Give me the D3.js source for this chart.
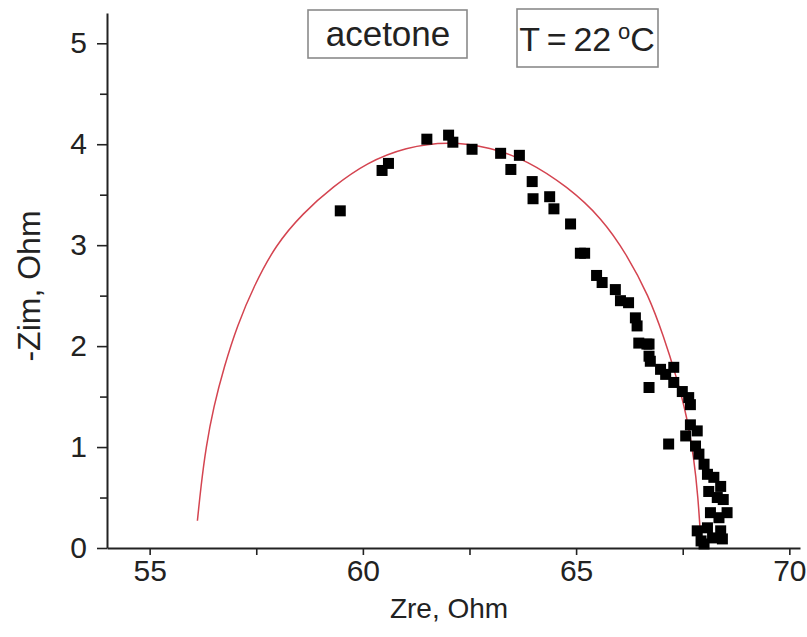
<!DOCTYPE html>
<html>
<head>
<meta charset="utf-8">
<script src="https://cdn.jsdelivr.net/npm/d3@7"></script>
<style>
  body { margin: 0; background: #fff; }
  svg { display: block; font-family: "Liberation Sans", Arial, sans-serif; }
</style>
</head>
<body>
<svg id="chart" width="807" height="637"></svg>
<script>
var zre = [59.47, 60.45, 60.6, 61.5, 62.01, 62.11, 62.56, 63.23, 63.67, 63.47,
  63.97, 63.99, 64.38, 64.48, 64.87, 65.1, 65.2, 65.48, 65.61, 65.92,
  66.04, 66.23, 66.39, 66.43, 66.47, 66.71, 66.71, 66.66, 66.74, 66.98,
  67.29, 67.1, 66.71, 67.29, 67.49, 67.64, 67.68, 67.17, 67.57, 67.68,
  67.84, 67.8, 67.88, 68.0, 68.08, 68.23, 68.39, 68.11, 68.31, 68.54,
  68.15, 68.35, 67.84, 68.08, 68.39, 67.93, 68.2, 68.43, 68.0, 68.45];
var zim = [3.34, 3.74, 3.81, 4.05, 4.09, 4.02, 3.95, 3.91, 3.89, 3.75,
  3.63, 3.46, 3.48, 3.36, 3.21, 2.92, 2.92, 2.7, 2.63, 2.56,
  2.45, 2.43, 2.28, 2.2, 2.03, 2.02, 1.9, 2.02, 1.85, 1.77,
  1.79, 1.72, 1.59, 1.64, 1.55, 1.49, 1.42, 1.03, 1.11, 1.22,
  1.16, 1.01, 0.93, 0.83, 0.73, 0.7, 0.61, 0.56, 0.5, 0.35,
  0.35, 0.3, 0.17, 0.2, 0.17, 0.07, 0.1, 0.09, 0.04, 0.48];

// fitted arc
var fitRe = [56.12, 56.2, 56.32, 56.5, 56.75, 57.05, 57.45, 57.95, 58.6, 59.3,
  60.1, 61.0, 62.0, 63.0, 63.85, 64.8, 65.6, 66.2, 66.7, 67.05,
  67.35, 67.6, 67.76, 67.86, 67.92];
var fitIm = [0.27, 0.6, 1.0, 1.4, 1.8, 2.2, 2.6, 3.0, 3.32, 3.58,
  3.82, 3.97, 4.03, 3.97, 3.84, 3.58, 3.27, 2.9, 2.5, 2.1,
  1.7, 1.3, 0.9, 0.5, 0.1];

var xMajor = [55, 60, 65, 70];
var xMinor = [57.5, 62.5, 67.5];
var yMajor = [0, 1, 2, 3, 4, 5];
var yMinor = [0.5, 1.5, 2.5, 3.5, 4.5];

var svg = d3.select('#chart');

var x = d3.scaleLinear().domain([54, 70.25]).range([107, 800]);
var y = d3.scaleLinear().domain([0, 5.3]).range([548, 13]);

// axes
svg.append('g')
  .attr('transform', 'translate(0,' + y(0) + ')')
  .call(d3.axisBottom(x).tickValues(xMajor).tickSize(7).tickPadding(5).tickSizeOuter(0));
svg.append('g')
  .attr('transform', 'translate(0,' + y(0) + ')')
  .call(d3.axisBottom(x).tickValues(xMinor).tickSize(7).tickFormat('').tickSizeOuter(0))
  .select('.domain').remove();

svg.append('g')
  .attr('transform', 'translate(' + x(54) + ',0)')
  .call(d3.axisLeft(y).tickValues(yMajor).tickFormat(d3.format('d'))
    .tickSize(10).tickPadding(10).tickSizeOuter(0));
svg.append('g')
  .attr('transform', 'translate(' + x(54) + ',0)')
  .call(d3.axisLeft(y).tickValues(yMinor).tickSize(7).tickFormat('').tickSizeOuter(0))
  .select('.domain').remove();

svg.selectAll('.domain').attr('stroke', '#222').attr('stroke-width', 2);
svg.selectAll('.tick line').attr('stroke', '#222').attr('stroke-width', 1.6);
svg.selectAll('.tick text').attr('font-size', 30).attr('fill', '#222')
  .attr('font-family', '"Liberation Sans", Arial, sans-serif');

// axis titles
svg.append('text')
  .attr('x', 449).attr('y', 618)
  .attr('text-anchor', 'middle')
  .attr('font-size', 28).attr('fill', '#222')
  .text('Zre, Ohm');
svg.append('text')
  .attr('transform', 'translate(40,286) rotate(-90)')
  .attr('text-anchor', 'middle')
  .attr('font-size', 32).attr('fill', '#222')
  .text('-Zim, Ohm');

// fitted curve
var line = d3.line()
  .x(function (d, i) { return x(fitRe[i]); })
  .y(function (d, i) { return y(fitIm[i]); })
  .curve(d3.curveBasis);
svg.append('path')
  .datum(fitRe)
  .attr('d', line)
  .attr('fill', 'none')
  .attr('stroke', '#d44450')
  .attr('stroke-width', 1.5);

// data squares
var sz = 11;
svg.append('g').selectAll('rect')
  .data(zre)
  .enter().append('rect')
  .attr('x', function (d) { return x(d) - sz / 2; })
  .attr('y', function (d, i) { return y(zim[i]) - sz / 2; })
  .attr('width', sz).attr('height', sz)
  .attr('fill', '#000');

// labels in boxes
var box1 = svg.append('g');
box1.append('rect')
  .attr('x', 308).attr('y', 10).attr('width', 159).attr('height', 48)
  .attr('fill', '#fff').attr('stroke', '#8a8a8a').attr('stroke-width', 1.6);
box1.append('text')
  .attr('x', 388).attr('y', 46)
  .attr('text-anchor', 'middle')
  .attr('font-size', 35).attr('fill', '#222')
  .text('acetone');

var box2 = svg.append('g');
box2.append('rect')
  .attr('x', 517).attr('y', 9).attr('width', 141).attr('height', 58)
  .attr('fill', '#fff').attr('stroke', '#8a8a8a').attr('stroke-width', 1.6);
var t2 = box2.append('text')
  .attr('x', 587).attr('y', 51)
  .attr('text-anchor', 'middle')
  .attr('font-size', 34).attr('fill', '#222');
t2.append('tspan').text('T\u2009=\u200922\u2009');
t2.append('tspan').attr('dy', -12).attr('font-size', 22).text('o');
t2.append('tspan').attr('dy', 12).text('C');
</script>
</body>
</html>
